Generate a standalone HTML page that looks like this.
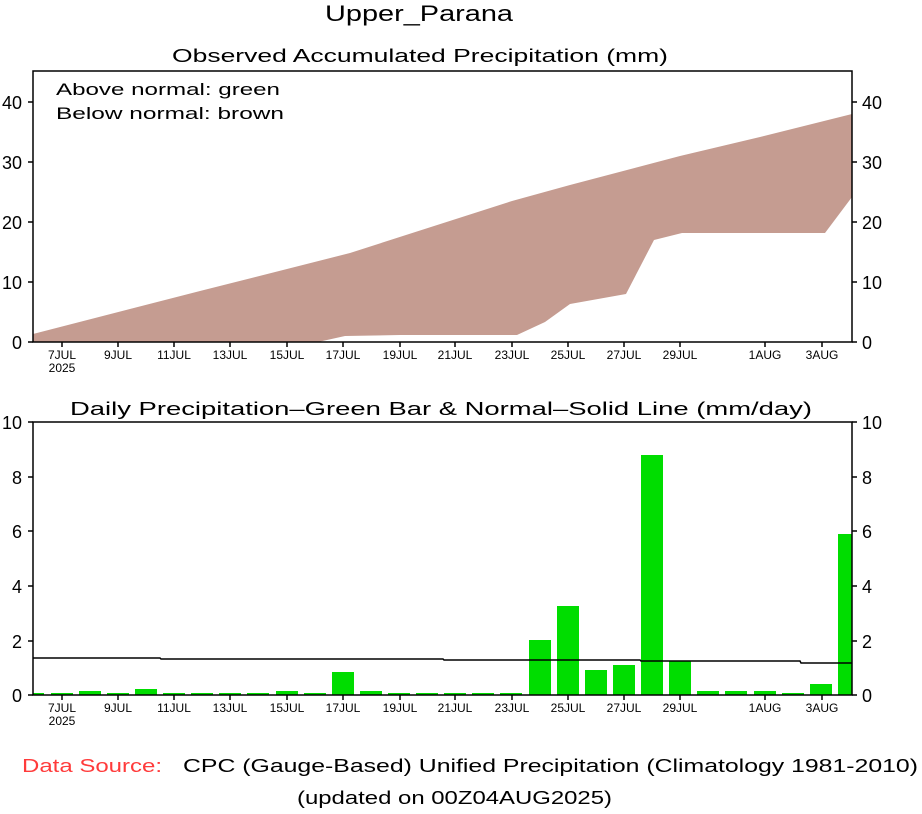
<!DOCTYPE html>
<html><head><meta charset="utf-8"><style>
body{margin:0;background:#fff}
svg text{font-family:"Liberation Sans",sans-serif;fill:#000}
</style></head><body>
<svg width="922" height="809" viewBox="0 0 922 809" xmlns="http://www.w3.org/2000/svg">
<rect width="922" height="809" fill="#fff"/>
<text x="325" y="21" font-size="22" textLength="188" lengthAdjust="spacingAndGlyphs">Upper_Parana</text>
<text x="172" y="62" font-size="18" textLength="496" lengthAdjust="spacingAndGlyphs">Observed Accumulated Precipitation (mm)</text>
<polygon fill="#c59c91" points="33,334 200,291 350,253 512,201 570,185 680,156 760,137 852,114 852,197 825,233 682,233 654,240 626,294 570,304 545,322 517,335 400,335 345,336 318,342 33,342"/>
<rect x="33" y="71" width="819" height="271" fill="none" stroke="#000" stroke-width="1.5"/>
<text x="56" y="95" font-size="17" textLength="224" lengthAdjust="spacingAndGlyphs">Above normal: green</text>
<text x="56" y="119" font-size="17" textLength="228" lengthAdjust="spacingAndGlyphs">Below normal: brown</text>
<g font-size="18">
<text x="22" y="349" text-anchor="end">0</text><text x="22" y="289" text-anchor="end">10</text><text x="22" y="229" text-anchor="end">20</text><text x="22" y="169" text-anchor="end">30</text><text x="22" y="109" text-anchor="end">40</text>
<text x="862" y="349">0</text><text x="862" y="289">10</text><text x="862" y="229">20</text><text x="862" y="169">30</text><text x="862" y="109">40</text>
</g>
<g stroke="#000" stroke-width="1.5">
<line x1="28" y1="342" x2="33" y2="342"/><line x1="28" y1="282" x2="33" y2="282"/><line x1="28" y1="222" x2="33" y2="222"/><line x1="28" y1="162" x2="33" y2="162"/><line x1="28" y1="102" x2="33" y2="102"/>
<line x1="852" y1="342" x2="857" y2="342"/><line x1="852" y1="282" x2="857" y2="282"/><line x1="852" y1="222" x2="857" y2="222"/><line x1="852" y1="162" x2="857" y2="162"/><line x1="852" y1="102" x2="857" y2="102"/>
</g>
<g font-size="12" text-anchor="middle">
<text x="62" y="359">7JUL</text><text x="62" y="372">2025</text>
<text x="118" y="359">9JUL</text><text x="174" y="359">11JUL</text><text x="230" y="359">13JUL</text><text x="287" y="359">15JUL</text><text x="343" y="359">17JUL</text><text x="400" y="359">19JUL</text><text x="455" y="359">21JUL</text><text x="512" y="359">23JUL</text><text x="568" y="359">25JUL</text><text x="624" y="359">27JUL</text><text x="680" y="359">29JUL</text><text x="765" y="359">1AUG</text><text x="822" y="359">3AUG</text>
</g>
<g stroke="#000" stroke-width="1.5">
<line x1="62" y1="342" x2="62" y2="347"/><line x1="118" y1="342" x2="118" y2="347"/><line x1="174" y1="342" x2="174" y2="347"/><line x1="230" y1="342" x2="230" y2="347"/><line x1="287" y1="342" x2="287" y2="347"/><line x1="343" y1="342" x2="343" y2="347"/><line x1="400" y1="342" x2="400" y2="347"/><line x1="455" y1="342" x2="455" y2="347"/><line x1="512" y1="342" x2="512" y2="347"/><line x1="568" y1="342" x2="568" y2="347"/><line x1="624" y1="342" x2="624" y2="347"/><line x1="680" y1="342" x2="680" y2="347"/><line x1="765" y1="342" x2="765" y2="347"/><line x1="822" y1="342" x2="822" y2="347"/>
</g>

<text x="70" y="415" font-size="18" textLength="742" lengthAdjust="spacingAndGlyphs">Daily Precipitation–Green Bar &amp; Normal–Solid Line (mm/day)</text>
<g fill="#00dd00">
<rect x="33" y="693" width="11" height="2"/><rect x="51" y="693" width="22" height="2"/><rect x="79" y="691" width="22" height="4"/><rect x="107" y="693" width="22" height="2"/><rect x="135" y="689" width="22" height="6"/><rect x="163" y="693" width="22" height="2"/><rect x="191" y="693" width="22" height="2"/><rect x="219" y="693" width="22" height="2"/><rect x="247" y="693" width="22" height="2"/><rect x="276" y="691" width="22" height="4"/><rect x="304" y="693" width="22" height="2"/><rect x="332" y="672" width="22" height="23"/><rect x="360" y="691" width="22" height="4"/><rect x="388" y="693" width="22" height="2"/><rect x="416" y="693" width="22" height="2"/><rect x="444" y="693" width="22" height="2"/><rect x="472" y="693" width="22" height="2"/><rect x="500" y="693" width="22" height="2"/>
<rect x="529" y="640" width="22" height="55"/><rect x="557" y="606" width="22" height="89"/><rect x="585" y="670" width="22" height="25"/><rect x="613" y="665" width="22" height="30"/><rect x="641" y="455" width="22" height="240"/><rect x="669" y="661" width="22" height="34"/><rect x="697" y="691" width="22" height="4"/><rect x="725" y="691" width="22" height="4"/><rect x="754" y="691" width="22" height="4"/><rect x="782" y="693" width="22" height="2"/><rect x="810" y="684" width="22" height="11"/><rect x="838" y="534" width="14" height="161"/>
</g>
<polyline fill="none" stroke="#000" stroke-width="1.5" points="33,658 160,658 161,659 443,659 444,660 640,660 641,661 800,661 801,663 852,663"/>
<rect x="33" y="422" width="819" height="273" fill="none" stroke="#000" stroke-width="1.5"/>
<g font-size="18">
<text x="22" y="702" text-anchor="end">0</text><text x="22" y="648" text-anchor="end">2</text><text x="22" y="593" text-anchor="end">4</text><text x="22" y="538" text-anchor="end">6</text><text x="22" y="484" text-anchor="end">8</text><text x="22" y="429" text-anchor="end">10</text>
<text x="862" y="702">0</text><text x="862" y="648">2</text><text x="862" y="593">4</text><text x="862" y="538">6</text><text x="862" y="484">8</text><text x="862" y="429">10</text>
</g>
<g stroke="#000" stroke-width="1.5">
<line x1="28" y1="695" x2="33" y2="695"/><line x1="28" y1="641" x2="33" y2="641"/><line x1="28" y1="586" x2="33" y2="586"/><line x1="28" y1="531" x2="33" y2="531"/><line x1="28" y1="477" x2="33" y2="477"/><line x1="28" y1="422" x2="33" y2="422"/>
<line x1="852" y1="695" x2="857" y2="695"/><line x1="852" y1="641" x2="857" y2="641"/><line x1="852" y1="586" x2="857" y2="586"/><line x1="852" y1="531" x2="857" y2="531"/><line x1="852" y1="477" x2="857" y2="477"/><line x1="852" y1="422" x2="857" y2="422"/>
<line x1="62" y1="695" x2="62" y2="700"/><line x1="118" y1="695" x2="118" y2="700"/><line x1="174" y1="695" x2="174" y2="700"/><line x1="230" y1="695" x2="230" y2="700"/><line x1="287" y1="695" x2="287" y2="700"/><line x1="343" y1="695" x2="343" y2="700"/><line x1="400" y1="695" x2="400" y2="700"/><line x1="455" y1="695" x2="455" y2="700"/><line x1="512" y1="695" x2="512" y2="700"/><line x1="568" y1="695" x2="568" y2="700"/><line x1="624" y1="695" x2="624" y2="700"/><line x1="680" y1="695" x2="680" y2="700"/><line x1="765" y1="695" x2="765" y2="700"/><line x1="822" y1="695" x2="822" y2="700"/>
</g>
<g font-size="12" text-anchor="middle">
<text x="62" y="712">7JUL</text><text x="62" y="725">2025</text>
<text x="118" y="712">9JUL</text><text x="174" y="712">11JUL</text><text x="230" y="712">13JUL</text><text x="287" y="712">15JUL</text><text x="343" y="712">17JUL</text><text x="400" y="712">19JUL</text><text x="455" y="712">21JUL</text><text x="512" y="712">23JUL</text><text x="568" y="712">25JUL</text><text x="624" y="712">27JUL</text><text x="680" y="712">29JUL</text><text x="765" y="712">1AUG</text><text x="822" y="712">3AUG</text>
</g>
<text x="22" y="772" font-size="18" textLength="140" lengthAdjust="spacingAndGlyphs" style="fill:#ff3b3b">Data Source:</text>
<text x="183" y="772" font-size="18" textLength="735" lengthAdjust="spacingAndGlyphs">CPC (Gauge-Based) Unified Precipitation (Climatology 1981-2010)</text>
<text x="297" y="804" font-size="18" textLength="315" lengthAdjust="spacingAndGlyphs">(updated on 00Z04AUG2025)</text>
</svg>
</body></html>
